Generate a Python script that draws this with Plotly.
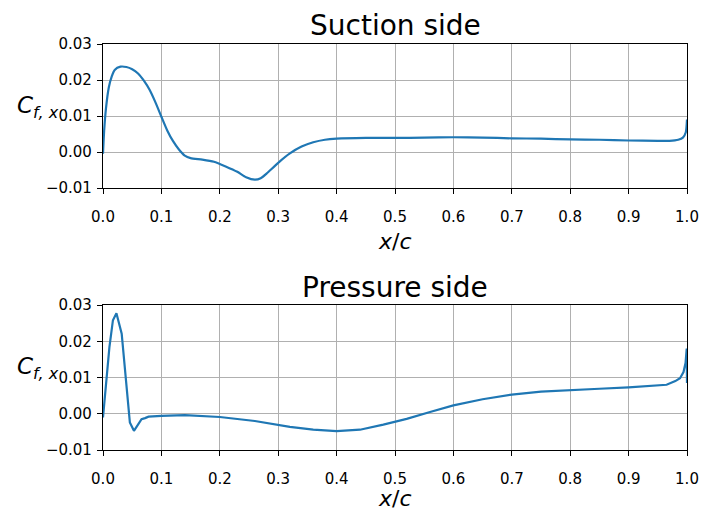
import plotly.graph_objects as go
from plotly.subplots import make_subplots

suction_x = [0.0, 0.002, 0.005, 0.01, 0.015, 0.02, 0.03, 0.04, 0.05, 0.06, 0.07, 0.08, 0.09, 0.10,
             0.11, 0.12, 0.13, 0.14, 0.15, 0.17, 0.19, 0.21, 0.23, 0.245, 0.26, 0.27, 0.28, 0.30,
             0.32, 0.34, 0.36, 0.38, 0.40, 0.45, 0.50, 0.55, 0.60, 0.65, 0.70, 0.75, 0.80, 0.85,
             0.90, 0.95, 0.97, 0.985, 0.993, 0.998, 1.0]
suction_cf = [-0.0005, 0.006, 0.012, 0.018, 0.021, 0.0228, 0.0237, 0.0236, 0.0230, 0.0218, 0.0198,
              0.0172, 0.0137, 0.0098, 0.0060, 0.0030, 0.0007, -0.0010, -0.0017, -0.0021, -0.0027,
              -0.0040, -0.0055, -0.0070, -0.0077, -0.0073, -0.0060, -0.0030, -0.0004, 0.0015,
              0.0027, 0.0034, 0.0037, 0.0039, 0.0039, 0.0040, 0.0041, 0.0040, 0.0038, 0.0037,
              0.0035, 0.0034, 0.0032, 0.0031, 0.0031, 0.0034, 0.0040, 0.0055, 0.0090]

pressure_x = [0.0, 0.005, 0.011, 0.017, 0.023, 0.032, 0.038, 0.046, 0.053, 0.060, 0.066, 0.072,
              0.078, 0.10, 0.14, 0.20, 0.26, 0.32, 0.36, 0.40, 0.44, 0.48, 0.52, 0.56, 0.60, 0.65,
              0.70, 0.75, 0.80, 0.85, 0.90, 0.94, 0.965, 0.98, 0.988, 0.994, 0.9975, 0.9995, 1.0]
pressure_cf = [-0.0010, 0.008, 0.0184, 0.0258, 0.0277, 0.0221, 0.011, -0.0024, -0.0047, -0.0028,
               -0.0015, -0.0012, -0.0008, -0.0006, -0.0004, -0.0009, -0.0020, -0.0036, -0.0044,
               -0.0048, -0.0044, -0.0030, -0.0014, 0.0005, 0.0023, 0.0040, 0.0053, 0.0061, 0.0066,
               0.0069, 0.0073, 0.0077, 0.0080, 0.0090, 0.0098, 0.0115, 0.0140, 0.0180, 0.0085]

titles = ["Suction side", "Pressure side"]
x_ticks = [0.0, 0.1, 0.2, 0.3, 0.4, 0.5, 0.6, 0.7, 0.8, 0.9, 1.0]
y_ticks = [-0.01, 0.0, 0.01, 0.02, 0.03]

W, H = 702, 513
L, R, T, B = 103, 687, 44, 450
IW, IH = R - L, B - T


def px_x(p):
    return (p - L) / IW


def px_y(p):
    return (B - p) / IH


fig = make_subplots(rows=2, cols=1)
color = "#1f77b4"
fig.add_trace(go.Scatter(x=suction_x, y=suction_cf, mode="lines", line_shape="spline",
                         line=dict(color=color, width=2.2, smoothing=0.6), showlegend=False), row=1, col=1)
fig.add_trace(go.Scatter(x=pressure_x, y=pressure_cf, mode="lines",
                         line=dict(color=color, width=2.2), showlegend=False), row=2, col=1)

ydoms = [[px_y(188), 1.0], [0.0, px_y(305)]]
font = "DejaVu Sans"
axis_common = dict(showline=True, linecolor="black", linewidth=1.2, mirror=True,
                   ticks="outside", ticklen=5, tickwidth=1.2, tickcolor="black",
                   showgrid=True, gridcolor="#b0b0b0", gridwidth=1.2, zeroline=False,
                   automargin=False,
                   tickfont=dict(family=font, size=15, color="black"))

for i in range(2):
    xa = "xaxis" if i == 0 else "xaxis2"
    ya = "yaxis" if i == 0 else "yaxis2"
    fig.layout[xa].update(domain=[0, 1], range=[0, 1], tickvals=x_ticks,
                          ticktext=[f"{v:.1f}" for v in x_ticks],
                          ticklabelstandoff=10, **axis_common)
    fig.layout[ya].update(domain=ydoms[i], range=[-0.01, 0.03], tickvals=y_ticks,
                          tickformat=".2f", ticklabelstandoff=2, **axis_common)
    off = 0 if i == 0 else 261
    fig.add_annotation(text=titles[i], xref="paper", yref="paper",
                       x=0.5, y=px_y(26 + off), showarrow=False,
                       font=dict(family=font, size=28, color="black"),
                       xanchor="center", yanchor="middle")
    fig.add_annotation(text="<i>x</i>/<i>c</i>", xref="paper", yref="paper",
                       x=0.5, y=px_y((241 if i == 0 else 499) + (0 if i == 0 else 0)),
                       showarrow=False,
                       font=dict(family=font, size=22, color="black"),
                       xanchor="center", yanchor="middle")
    fig.add_annotation(text="<i>C</i><sub><i>f, x</i></sub>", xref="paper", yref="paper",
                       x=px_x(15), y=px_y(107 + off), showarrow=False,
                       font=dict(family=font, size=23, color="black"),
                       xanchor="left", yanchor="middle")

fig.update_layout(width=W, height=H, margin=dict(l=L, r=W - R, t=T, b=H - B),
                  plot_bgcolor="white", paper_bgcolor="white",
                  font=dict(family=font, color="black"))
fig.write_html("out.html", config={"displayModeBar": False},
               post_script="document.body.style.margin='0';document.body.style.overflow='hidden';")
